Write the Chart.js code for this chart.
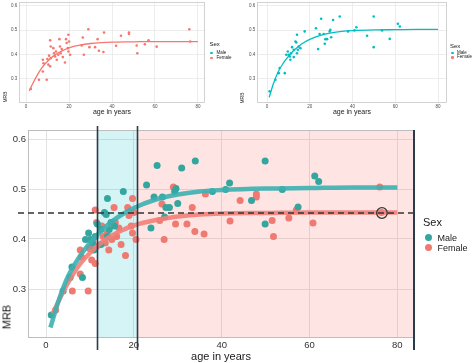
<!DOCTYPE html>
<html><head><meta charset="utf-8">
<script src="https://cdn.jsdelivr.net/npm/chart.js@4.4.0/dist/chart.umd.min.js"></script>
<style>
body{margin:0;background:#fff;}
#wrap{position:relative;width:474px;height:363px;overflow:hidden;font-family:"Liberation Sans",Arial,sans-serif;color:#1a1a1a;background:#fff;}
canvas{position:absolute;}
.t{position:absolute;white-space:nowrap;line-height:1;}
.dot{position:absolute;border-radius:50%;}
</style></head><body>
<div id="wrap">
<canvas id="c1" width="237" height="120" style="left:0;top:0"></canvas>
<canvas id="c2" width="237" height="120" style="left:237px;top:0"></canvas>
<canvas id="c3" width="474" height="243" style="left:0;top:120px"></canvas>
</div>
<script>
// ---- data ----
const femaleAge = [2.2, 6.0, 9.6, 7.8, 8.1, 7.8, 9.9, 10.7, 11.5, 11.2, 10.4, 11.2, 11.5, 12.7, 13.0, 13.5, 13.9, 14.3, 15.0, 15.5, 15.8, 16.1, 16.6, 17.1, 18.1, 18.6, 18.9, 19.4, 19.7, 20.0, 20.5, 19.7, 25.9, 26.4, 26.9, 29.0, 29.5, 32.1, 33.3, 33.9, 36.0, 36.3, 41.9, 44.2, 47.9, 47.9, 51.5, 51.8, 55.3, 57.0, 60.8, 76.0, 76.4];
const femaleMRB = [0.258, 0.296, 0.296, 0.330, 0.364, 0.378, 0.381, 0.395, 0.385, 0.351, 0.358, 0.458, 0.433, 0.426, 0.405, 0.392, 0.412, 0.378, 0.399, 0.463, 0.433, 0.405, 0.422, 0.389, 0.367, 0.463, 0.447, 0.426, 0.481, 0.453, 0.399, 0.412, 0.437, 0.470, 0.399, 0.504, 0.430, 0.430, 0.463, 0.415, 0.410, 0.490, 0.436, 0.477, 0.490, 0.484, 0.437, 0.405, 0.442, 0.458, 0.432, 0.504, 0.453];
const maleAge = [1.2, 3.9, 5.5, 5.9, 8.3, 9.0, 9.7, 10.1, 10.6, 10.9, 11.2, 11.7, 12.5, 12.5, 13.3, 13.7, 14.0, 14.0, 14.4, 14.8, 15.6, 17.6, 22.9, 23.9, 24.6, 25.3, 26.5, 27.0, 27.3, 28.1, 29.3, 29.6, 30.0, 30.9, 34.0, 37.9, 40.9, 41.8, 46.8, 49.9, 49.9, 53.8, 57.4, 61.2, 62.1];
const maleMRB = [0.248, 0.296, 0.323, 0.344, 0.323, 0.399, 0.412, 0.399, 0.392, 0.378, 0.405, 0.430, 0.389, 0.419, 0.453, 0.449, 0.481, 0.405, 0.419, 0.433, 0.426, 0.495, 0.508, 0.422, 0.484, 0.547, 0.484, 0.444, 0.463, 0.463, 0.495, 0.501, 0.471, 0.542, 0.556, 0.495, 0.499, 0.512, 0.477, 0.556, 0.430, 0.499, 0.464, 0.526, 0.515];
const maleCurveAge = [1, 3, 5, 7.5, 10, 12.5, 15, 17.5, 20, 25, 30, 35, 40, 50, 60, 70, 80];
const maleCurveMRB = [0.223, 0.28, 0.325, 0.363, 0.392, 0.416, 0.435, 0.45, 0.462, 0.479, 0.489, 0.495, 0.498, 0.501, 0.502, 0.503, 0.503];
const femaleCurveAge = [1.5, 3, 5, 7.5, 10, 12.5, 15, 17.5, 20, 25, 30, 35, 40, 50, 60, 70, 80];
const femaleCurveMRB = [0.25, 0.278, 0.312, 0.347, 0.372, 0.392, 0.407, 0.418, 0.427, 0.438, 0.445, 0.449, 0.451, 0.452, 0.453, 0.453, 0.453];
const xTicks = [0, 20, 40, 60, 80];
const xTickLabels = ['0', '20', '40', '60', '80'];
const yTicks = [0.3, 0.4, 0.5, 0.6];
const yTickLabels = ['0.3', '0.4', '0.5', '0.6'];
const seriesNames = ['Male', 'Female'];
const ageBands = [11.6, 20.7];
const plateauMRB = [0.452];
const markedAge = [76.5];
const markedMRB = [0.452];

const FONT = '"Liberation Sans", Arial, sans-serif';
const pts = (a, m) => a.map((x, i) => ({x: x, y: m[i]}));

function deco(s) {
  return {
    id: 'deco',
    beforeDatasetsDraw(chart) {
      const {ctx, chartArea: a, scales: {x}} = chart;
      ctx.save();
      if (s.shade) {
        const x1 = x.getPixelForValue(ageBands[0]), x2 = x.getPixelForValue(ageBands[1]);
        ctx.fillStyle = 'rgba(0,191,196,0.17)';
        ctx.fillRect(x1, a.top, x2 - x1, a.bottom - a.top);
        ctx.fillStyle = 'rgba(248,118,109,0.2)';
        ctx.fillRect(x2, a.top, a.right - x2, a.bottom - a.top);
      }
      ctx.strokeStyle = s.borderColor; ctx.lineWidth = s.borderWidth;
      ctx.strokeRect(a.left + 0.5, a.top + 0.5, a.right - a.left - 1, a.bottom - a.top - 1);
      ctx.restore();
    },
    afterDatasetsDraw(chart) {
      if (!s.shade) return;
      const {ctx, chartArea: a, scales: {x, y}} = chart;
      ctx.save();
      const yp = y.getPixelForValue(plateauMRB[0]);
      ctx.strokeStyle = '#333'; ctx.lineWidth = 1.6; ctx.setLineDash([6, 4]);
      ctx.beginPath(); ctx.moveTo(a.left - 10, yp); ctx.lineTo(a.right + 1, yp); ctx.stroke();
      ctx.setLineDash([]);
      ctx.strokeStyle = '#2b3a4c'; ctx.lineWidth = 1.6;
      ageBands.forEach(v => {
        const xp = Math.round(x.getPixelForValue(v)) + 0.5;
        ctx.beginPath(); ctx.moveTo(xp, a.top - 4); ctx.lineTo(xp, a.bottom + 12); ctx.stroke();
      });
      ctx.lineWidth = 2;
      ctx.beginPath(); ctx.moveTo(a.right, a.top); ctx.lineTo(a.right, a.bottom + 12); ctx.stroke();
      ctx.restore();
    }
  };
}

function makeChart(id, s) {
  const cv = document.getElementById(id);
  const W = cv.width, H = cv.height;
  return new Chart(cv, {
    type: 'scatter',
    data: {datasets: s.datasets},
    options: {
      responsive: false, animation: false, devicePixelRatio: 1,
      layout: {padding: {left: 0, top: s.area.top, right: W - s.area.right, bottom: 0}},
      plugins: {legend: {display: false}, tooltip: {enabled: false}},
      scales: {
        x: {
          type: 'linear', position: 'bottom', min: s.xMin, max: s.xMax,
          afterBuildTicks: sc => { sc.ticks = xTicks.map(v => ({value: v})); },
          afterFit: sc => { sc.height = H - s.area.bottom; sc.paddingLeft = 0; sc.paddingRight = 0; },
          grid: {color: s.gridColor, lineWidth: s.gridWidth, drawTicks: false},
          border: {display: false},
          ticks: {autoSkip: false, maxRotation: 0, padding: s.xPad, color: s.tickColor,
            font: {family: FONT, size: s.tickSize}, callback: (v, i) => xTickLabels[i]}
        },
        y: {
          type: 'linear', position: 'left', min: s.yMin, max: s.yMax,
          afterBuildTicks: sc => { sc.ticks = yTicks.map(v => ({value: v})); },
          afterFit: sc => { sc.width = s.area.left; sc.paddingTop = 0; sc.paddingBottom = 0; },
          grid: {color: s.gridColor, lineWidth: s.gridWidth, drawTicks: false},
          border: {display: false},
          ticks: {autoSkip: false, padding: s.yPad, color: s.tickColor,
            font: {family: FONT, size: s.tickSize}, callback: (v, i) => yTickLabels[i]}
        }
      }
    },
    plugins: [deco(s)]
  });
}

const TEAL = '#00BFC4', SALMON = '#F8766D';
function pointSet(label, a, m, color, r, order) {
  return {label: label, data: pts(a, m), backgroundColor: color, borderWidth: 0,
    pointRadius: r, pointHoverRadius: r, order: order};
}
function lineSet(label, a, m, color, w, order) {
  return {label: label, data: pts(a, m), showLine: true, borderColor: color, borderWidth: w,
    pointRadius: 0, pointHoverRadius: 0, fill: false, cubicInterpolationMode: 'monotone',
    borderCapStyle: 'butt', order: order};
}

// top-left: Female only
makeChart('c1', {
  area: {left: 19, top: 2, right: 205, bottom: 103},
  xMin: -3.3, xMax: 83.3, yMin: 0.2, yMax: 0.616,
  tickSize: 4.5, tickColor: '#4d4d4d', xPad: 1.5, yPad: 1.7,
  gridColor: '#e8e8e8', gridWidth: 0.8, borderColor: '#c8c8c8', borderWidth: 0.8, shade: false,
  datasets: [
    lineSet(seriesNames[1], femaleCurveAge, femaleCurveMRB, SALMON, 1.3, 0),
    pointSet(seriesNames[1], femaleAge, femaleMRB, SALMON, 1.3, 1)
  ]
});
// top-right: Male only
makeChart('c2', {
  area: {left: 20, top: 2, right: 210, bottom: 103},
  xMin: -4.7, xMax: 84.2, yMin: 0.2, yMax: 0.616,
  tickSize: 4.5, tickColor: '#4d4d4d', xPad: 1.5, yPad: 1.7,
  gridColor: '#e8e8e8', gridWidth: 0.8, borderColor: '#c8c8c8', borderWidth: 0.8, shade: false,
  datasets: [
    lineSet(seriesNames[0], maleCurveAge, maleCurveMRB, TEAL, 1.3, 0),
    pointSet(seriesNames[0], maleAge, maleMRB, TEAL, 1.3, 1)
  ]
});
// bottom: both
makeChart('c3', {
  area: {left: 28, top: 10, right: 414, bottom: 218},
  xMin: -4.1, xMax: 83.8, yMin: 0.202, yMax: 0.618,
  tickSize: 9.5, tickColor: '#333', xPad: 2, yPad: 2,
  gridColor: '#e2e2e2', gridWidth: 1, borderColor: '#bdbdbd', borderWidth: 1, shade: true,
  datasets: [
    {label: 'marked', data: pts(markedAge, markedMRB), backgroundColor: 'rgba(0,0,0,0)',
      borderColor: '#333', borderWidth: 1.3, pointRadius: 5.3, order: -2},
    lineSet(seriesNames[0], maleCurveAge, maleCurveMRB, 'rgba(60,176,176,0.9)', 4.5, -1),
    lineSet(seriesNames[1], femaleCurveAge, femaleCurveMRB, 'rgba(242,128,120,0.9)', 4.5, 0),
    pointSet(seriesNames[0], maleAge, maleMRB, '#35a69f', 3.5, 1),
    pointSet(seriesNames[1], femaleAge, femaleMRB, '#ef7a71', 3.5, 2)
  ]
});

// ---- text (axis titles, legends) ----
const wrap = document.getElementById('wrap');
function txt(s, x, y, size, opt) {
  opt = opt || {};
  const d = document.createElement('div');
  d.className = 't'; d.textContent = s;
  d.style.left = x + 'px'; d.style.top = y + 'px'; d.style.fontSize = size + 'px';
  d.style.color = opt.color || '#1a1a1a';
  let tf = opt.left ? 'translate(0,-50%)' : 'translate(-50%,-50%)';
  if (opt.rot) tf += ' rotate(-90deg)';
  d.style.transform = tf;
  wrap.appendChild(d);
}
function dot(x, y, r, color) {
  const d = document.createElement('div');
  d.className = 'dot';
  d.style.left = (x - r) + 'px'; d.style.top = (y - r) + 'px';
  d.style.width = (2 * r) + 'px'; d.style.height = (2 * r) + 'px';
  d.style.background = color;
  wrap.appendChild(d);
}
// top-left
txt('age in years', 112, 111, 7);
txt('MRB', 4.5, 97, 5, {rot: true});
txt('Sex', 209.5, 43.5, 6, {left: true});
dot(211.3, 52.8, 1.3, TEAL); txt(seriesNames[0], 216.5, 52.8, 4.5, {left: true});
dot(211.3, 57.8, 1.3, SALMON); txt(seriesNames[1], 216.5, 57.8, 4.5, {left: true});
// top-right
txt('age in years', 352, 111, 7);
txt('MRB', 242, 97.5, 5, {rot: true});
txt('Sex', 450, 45.7, 6, {left: true});
dot(452.7, 52.8, 1.3, TEAL); txt(seriesNames[0], 457, 52.8, 4.5, {left: true});
dot(452.7, 57.3, 1.3, SALMON); txt(seriesNames[1], 457, 57.3, 4.5, {left: true});
// bottom
txt('age in years', 221, 356, 11);
txt('MRB', 6.5, 316.5, 11, {rot: true});
txt('Sex', 423, 222, 11, {left: true});
dot(428.3, 237.3, 3.5, '#35a69f'); txt(seriesNames[0], 437.5, 237.5, 9, {left: true});
dot(428.3, 247.3, 3.5, '#ef7a71'); txt(seriesNames[1], 437.5, 247.5, 9, {left: true});
</script>
</body></html>
